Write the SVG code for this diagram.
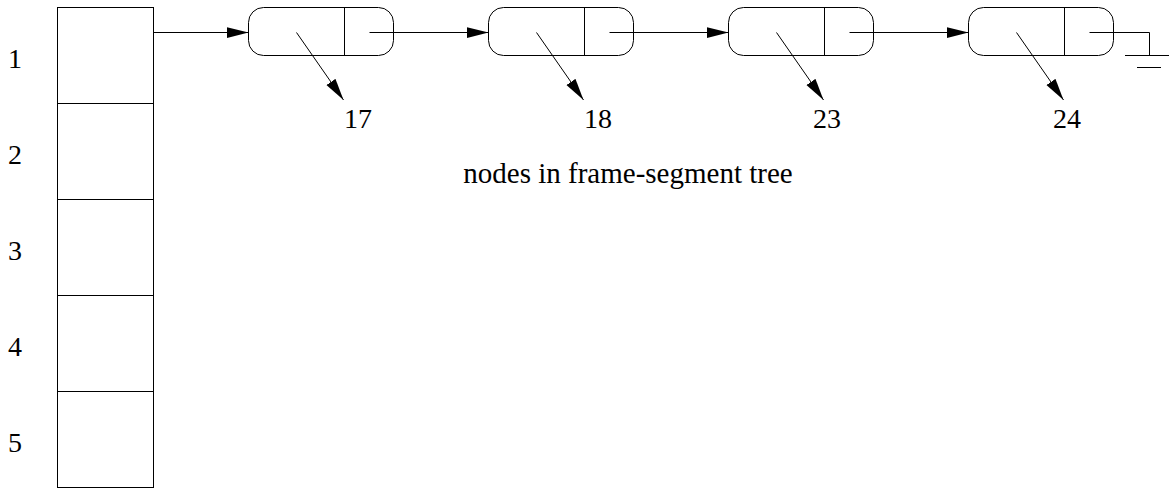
<svg xmlns="http://www.w3.org/2000/svg" width="1169" height="491" viewBox="0 0 1169 491">
  <style>
    .ln { fill: none; stroke: #000; stroke-width: 1; }
    .box { fill: #fff; stroke: #000; stroke-width: 1; }
    .lbl { font-family: "Liberation Serif", "Times New Roman", serif; font-size: 28px; fill: #000; text-anchor: middle; }
    .cap { font-size: 29px; }
  </style>
  <defs>
    <marker id="arrow" markerUnits="userSpaceOnUse" markerWidth="24" markerHeight="13" refX="22" refY="6" orient="auto">
      <path d="M0,0.5 L22,6 L0,11.5 z" fill="#000"/>
    </marker>
  </defs>
  <rect width="1169" height="491" fill="#fff"/>

  <!-- frame array with five slots -->
  <g id="array">
    <rect class="box" x="57.5" y="7.5" width="96" height="480"/>
    <line class="ln" x1="57.5" y1="103.5" x2="153.5" y2="103.5"/>
    <line class="ln" x1="57.5" y1="199.5" x2="153.5" y2="199.5"/>
    <line class="ln" x1="57.5" y1="295.5" x2="153.5" y2="295.5"/>
    <line class="ln" x1="57.5" y1="391.5" x2="153.5" y2="391.5"/>
    <text class="lbl" x="15" y="68">1</text>
    <text class="lbl" x="15" y="164">2</text>
    <text class="lbl" x="15" y="260">3</text>
    <text class="lbl" x="15" y="356">4</text>
    <text class="lbl" x="15" y="452">5</text>
  </g>

  <!-- list nodes -->
  <g id="node17">
    <rect class="box" x="248.5" y="7.5" width="145" height="48" rx="15"/>
    <line class="ln" x1="344.5" y1="7.5" x2="344.5" y2="55.5"/>
    <text class="lbl" x="358" y="128">17</text>
  </g>
  <g id="node18">
    <rect class="box" x="488.5" y="7.5" width="145" height="48" rx="15"/>
    <line class="ln" x1="584.5" y1="7.5" x2="584.5" y2="55.5"/>
    <text class="lbl" x="598" y="128">18</text>
  </g>
  <g id="node23">
    <rect class="box" x="728.5" y="7.5" width="145" height="48" rx="15"/>
    <line class="ln" x1="824.5" y1="7.5" x2="824.5" y2="55.5"/>
    <text class="lbl" x="827" y="128">23</text>
  </g>
  <g id="node24">
    <rect class="box" x="968.5" y="7.5" width="145" height="48" rx="15"/>
    <line class="ln" x1="1064.5" y1="7.5" x2="1064.5" y2="55.5"/>
    <text class="lbl" x="1067" y="128">24</text>
  </g>

  <g id="caption">
    <text class="lbl cap" x="628" y="183">nodes in frame-segment tree</text>
  </g>

  <!-- pointers -->
  <g id="connectors">
    <line class="ln" x1="153.5" y1="32.5" x2="248.5" y2="32.5" marker-end="url(#arrow)"/>
    <line class="ln" x1="369.5" y1="32.5" x2="488.5" y2="32.5" marker-end="url(#arrow)"/>
    <line class="ln" x1="609.5" y1="32.5" x2="728.5" y2="32.5" marker-end="url(#arrow)"/>
    <line class="ln" x1="849.5" y1="32.5" x2="968.5" y2="32.5" marker-end="url(#arrow)"/>

    <line class="ln" x1="296.5" y1="32.5" x2="343.5" y2="100" marker-end="url(#arrow)"/>
    <line class="ln" x1="536.5" y1="32.5" x2="583.5" y2="100" marker-end="url(#arrow)"/>
    <line class="ln" x1="776.5" y1="32.5" x2="823.5" y2="100" marker-end="url(#arrow)"/>
    <line class="ln" x1="1016.5" y1="32.5" x2="1063.5" y2="100" marker-end="url(#arrow)"/>

    <!-- null terminator (ground) -->
    <polyline class="ln" points="1089.5,32.5 1149.5,32.5 1149.5,55.5"/>
    <line class="ln" x1="1125" y1="55.5" x2="1169" y2="55.5"/>
    <line class="ln" x1="1137" y1="67.5" x2="1161" y2="67.5"/>
  </g>
</svg>
